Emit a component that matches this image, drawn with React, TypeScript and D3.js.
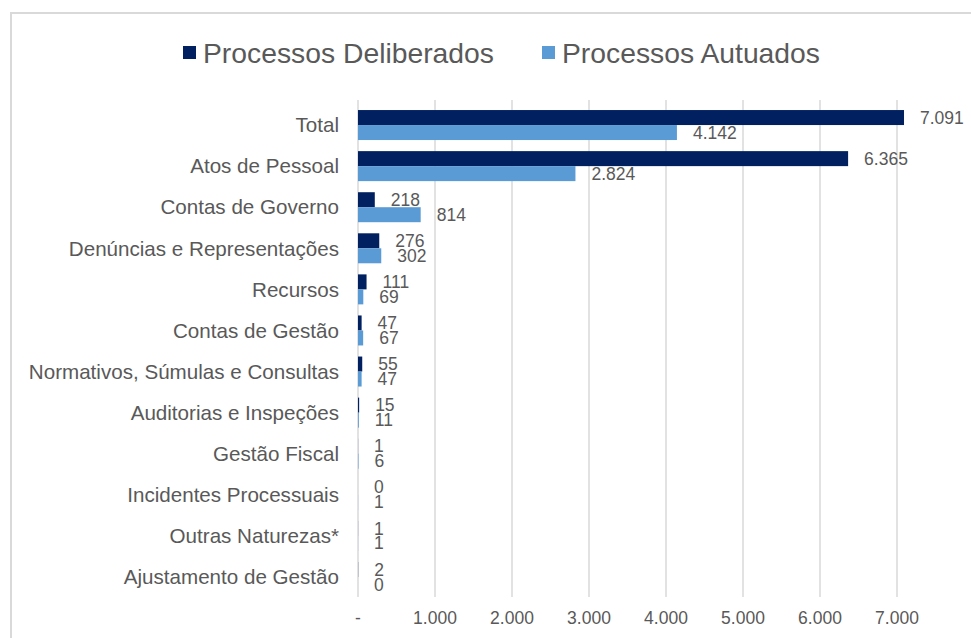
import React from "react";
import * as d3 from "d3";

// chart data
const categories = [
  "Total",
  "Atos de Pessoal",
  "Contas de Governo",
  "Denúncias e Representações",
  "Recursos",
  "Contas de Gestão",
  "Normativos, Súmulas e Consultas",
  "Auditorias e Inspeções",
  "Gestão Fiscal",
  "Incidentes Processuais",
  "Outras Naturezas*",
  "Ajustamento de Gestão",
];
const deliberados = [7091, 6365, 218, 276, 111, 47, 55, 15, 1, 0, 1, 2];
const autuados = [4142, 2824, 814, 302, 69, 67, 47, 11, 6, 1, 1, 0];
const seriesNames = ["Processos Deliberados", "Processos Autuados"];
const xTicks = [0, 1000, 2000, 3000, 4000, 5000, 6000, 7000];

const width = 971;
const height = 638;
const colors = ["#002060", "#5B9BD5"];
const textColor = "#595959";
const gridColor = "#d9d9d9";
const font = "'Liberation Sans', Arial, sans-serif";

// pt-BR style thousands: 7.091, zero shown as "-"
const fmt = (v: number) => d3.format(",")(v).replace(/,/g, ".");
const tickFmt = (v: number) => (v === 0 ? "-" : fmt(v));

export default function App() {
  const x = d3.scaleLinear().domain([0, 7000]).range([358, 897]);
  const y = d3
    .scaleBand()
    .domain(categories)
    .range([104.5, 597.5])
    .paddingInner(0.27)
    .paddingOuter(0.135);
  const sub = d3
    .scaleBand()
    .domain(["0", "1"])
    .range([0, y.bandwidth()]);

  const series = [deliberados, autuados];

  return (
    <svg
      width={width}
      height={height}
      style={{ position: "absolute", left: 0, top: 0, background: "#fff" }}
      fontFamily={font}
    >
      {/* frame */}
      <rect x={11} y={13} width={width} height={height} fill="#fff" stroke={gridColor} strokeWidth={2} />

      {/* legend */}
      {seriesNames.map((name, i) => {
        const lx = i === 0 ? 183 : 542;
        return (
          <g key={name}>
            <rect x={lx} y={46} width={13} height={13} fill={colors[i]} />
            <text x={lx + 20} y={53} dy="0.35em" fontSize={28.3} fill={textColor}>
              {name}
            </text>
          </g>
        );
      })}

      {/* gridlines */}
      {xTicks.map((t) => (
        <line
          key={t}
          x1={x(t)}
          x2={x(t)}
          y1={100}
          y2={597}
          stroke={gridColor}
          strokeWidth={1.5}
        />
      ))}

      {/* tick labels */}
      {xTicks.map((t) => (
        <text
          key={"l" + t}
          x={x(t)}
          y={618}
          dy="0.35em"
          textAnchor="middle"
          fontSize={17.5}
          fill={textColor}
        >
          {tickFmt(t)}
        </text>
      ))}

      {/* category labels */}
      {categories.map((c) => (
        <text
          key={c}
          x={339}
          y={(y(c) as number) + y.bandwidth() / 2}
          dy="0.35em"
          textAnchor="end"
          fontSize={20.6}
          fill={textColor}
        >
          {c}
        </text>
      ))}

      {/* bars */}
      {series.map((vals, si) =>
        vals.map((v, i) => {
          const c = categories[i];
          const by = (y(c) as number) + (sub(String(si)) as number);
          return (
            <rect
              key={si + "-" + c}
              x={x(0)}
              y={by}
              width={x(v) - x(0)}
              height={sub.bandwidth()}
              fill={colors[si]}
            />
          );
        })
      )}

      {/* value labels */}
      {series.map((vals, si) =>
        vals.map((v, i) => {
          const c = categories[i];
          const by = (y(c) as number) + (sub(String(si)) as number);
          return (
            <text
              key={"v" + si + "-" + c}
              x={x(v) + 16}
              y={by + sub.bandwidth() / 2}
              dy="0.35em"
              fontSize={17.5}
              fill={textColor}
            >
              {fmt(v)}
            </text>
          );
        })
      )}
    </svg>
  );
}
